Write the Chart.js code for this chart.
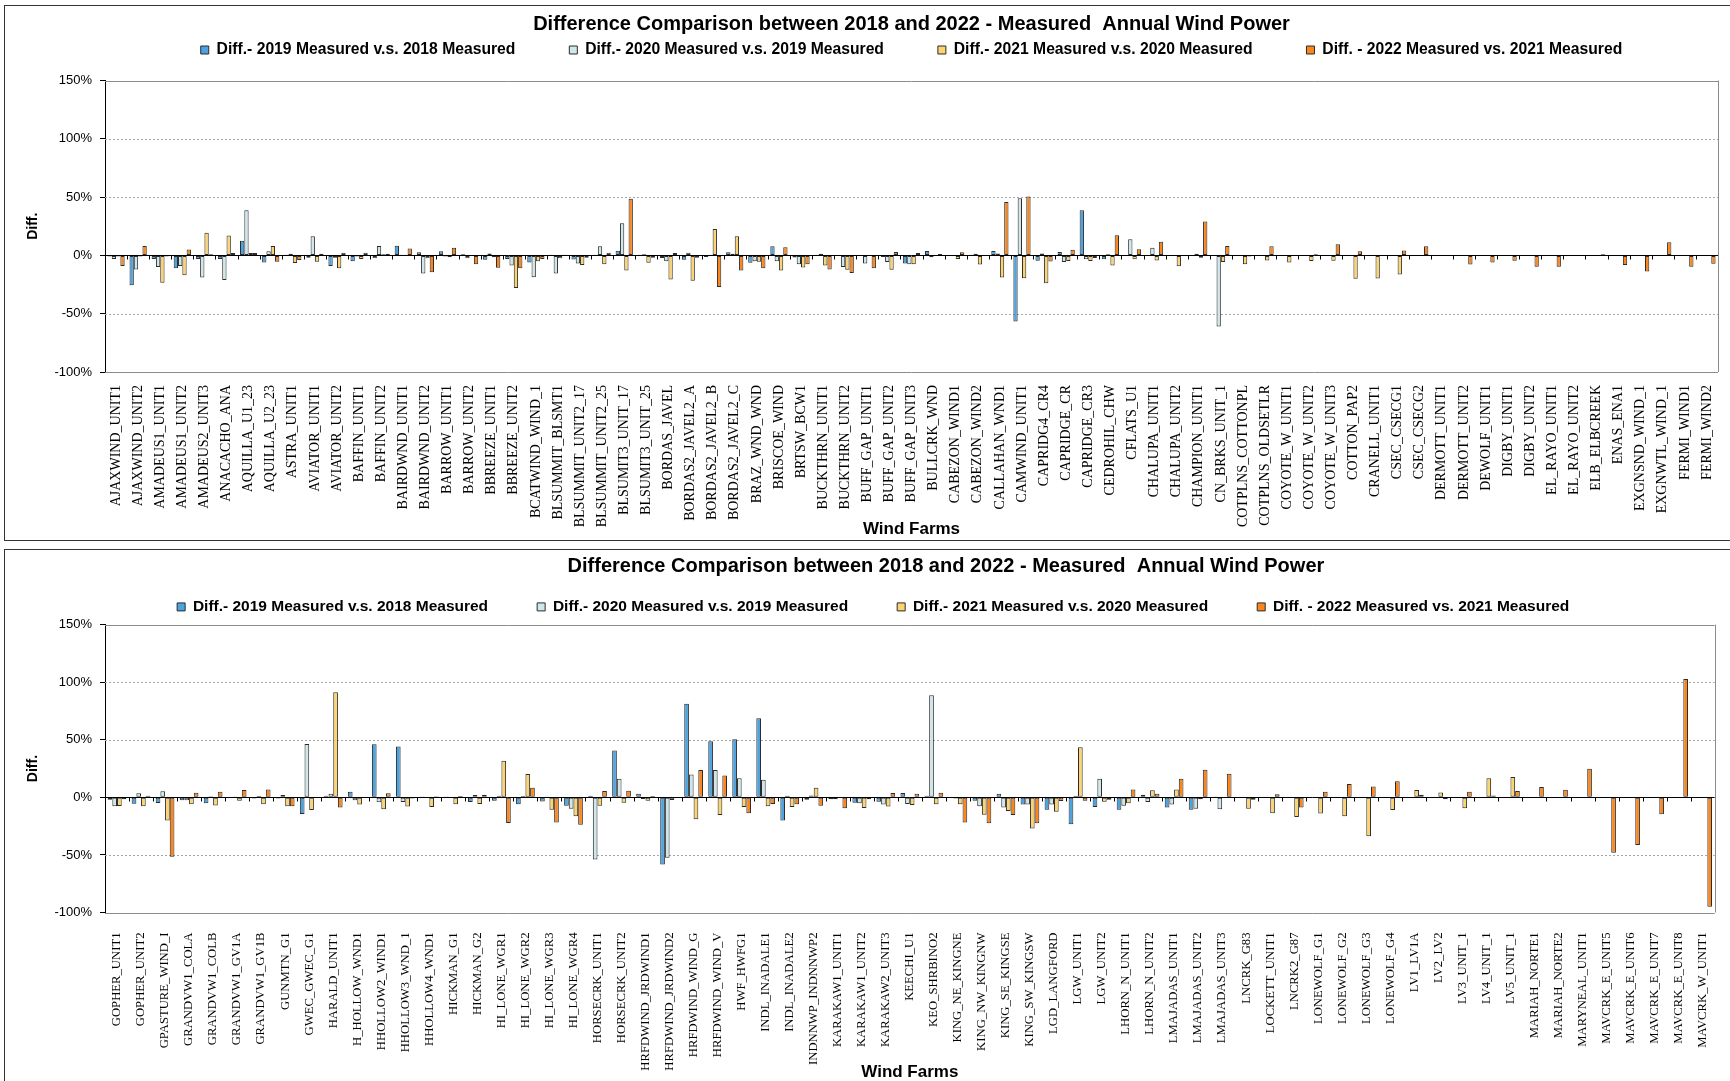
<!DOCTYPE html>
<html>
<head>
<meta charset="utf-8">
<script src="https://cdn.jsdelivr.net/npm/chart.js@4.4.1/dist/chart.umd.min.js"></script>
<style>
  html, body { margin: 0; padding: 0; background: #fff; width: 1730px; height: 1081px; overflow: hidden; }
  .box { position: absolute; left: 4px; width: 1830px; border: 1px solid #333; background: #fff; }
  #box1 { top: 5px; height: 534px; }
  #box2 { top: 549px; height: 560px; }
  canvas { display: block; }
</style>
</head>
<body>
<div class="box" id="box1"><canvas id="chart1" width="1725" height="534"></canvas></div>
<div class="box" id="box2"><canvas id="chart2" width="1725" height="545"></canvas></div>
<script>
Chart.defaults.font.family = '"Liberation Sans", Arial, sans-serif';
Chart.defaults.color = '#000';

const chartTitle = 'Difference Comparison between 2018 and 2022 - Measured  Annual Wind Power';
const seriesNames = [
  'Diff.- 2019 Measured v.s. 2018 Measured',
  'Diff.- 2020 Measured v.s. 2019 Measured',
  'Diff.- 2021 Measured v.s. 2020 Measured',
  'Diff. - 2022 Measured vs. 2021 Measured'
];
const seriesColors = ['#4ba3df', '#cfe6eb', '#fdd36f', '#fa861d'];

// ---- top chart ----
const farmsTop = ['AJAXWIND_UNIT1','AJAXWIND_UNIT2','AMADEUS1_UNIT1','AMADEUS1_UNIT2','AMADEUS2_UNIT3','ANACACHO_ANA',
  'AQUILLA_U1_23','AQUILLA_U2_23','ASTRA_UNIT1','AVIATOR_UNIT1','AVIATOR_UNIT2','BAFFIN_UNIT1','BAFFIN_UNIT2',
  'BAIRDWND_UNIT1','BAIRDWND_UNIT2','BARROW_UNIT1','BARROW_UNIT2','BBREEZE_UNIT1','BBREEZE_UNIT2','BCATWIND_WIND_1',
  'BLSUMMIT_BLSMT1','BLSUMMIT_UNIT2_17','BLSUMMIT_UNIT2_25','BLSUMIT3_UNIT_17','BLSUMIT3_UNIT_25','BORDAS_JAVEL',
  'BORDAS2_JAVEL2_A','BORDAS2_JAVEL2_B','BORDAS2_JAVEL2_C','BRAZ_WND_WND','BRISCOE_WIND','BRTSW_BCW1',
  'BUCKTHRN_UNIT1','BUCKTHRN_UNIT2','BUFF_GAP_UNIT1','BUFF_GAP_UNIT2','BUFF_GAP_UNIT3','BULLCRK_WND',
  'CABEZON_WIND1','CABEZON_WIND2','CALLAHAN_WND1','CAMWIND_UNIT1','CAPRIDG4_CR4','CAPRIDGE_CR','CAPRIDGE_CR3',
  'CEDROHIL_CHW','CFLATS_U1','CHALUPA_UNIT1','CHALUPA_UNIT2','CHAMPION_UNIT1','CN_BRKS_UNIT_1','COTPLNS_COTTONPL',
  'COTPLNS_OLDSETLR','COYOTE_W_UNIT1','COYOTE_W_UNIT2','COYOTE_W_UNIT3','COTTON_PAP2','CRANELL_UNIT1',
  'CSEC_CSECG1','CSEC_CSECG2','DERMOTT_UNIT1','DERMOTT_UNIT2','DEWOLF_UNIT1','DIGBY_UNIT1','DIGBY_UNIT2',
  'EL_RAYO_UNIT1','EL_RAYO_UNIT2','ELB_ELBCREEK','ENAS_ENA1','EXGNSND_WIND_1','EXGNWTL_WIND_1','FERMI_WIND1','FERMI_WIND2'];

const top2019 = [-1,-25.6,-3,-11,-3,-3,12.6,-6,0.5,-2,-9,-5,-2.5,8.3,2.6,3.5,1,-3.7,-3,-6,0.5,-3.5,0.5,4,0.5,-2.3,
  -3.7,-1.4,2.6,-6.3,7.8,-1.7,0.5,-0.5,-0.5,-1.4,-7,3.7,0.3,0.5,3.7,-56.6,-4.6,2.9,38.8,-3.4,0.3,0.3,0.3,0.3,0.3,
  null,null,null,null,null,null,null,null,null,null,null,null,null,null,null,null,null,null,null,null,null,null];
const top2020 = [-3,-12,-10,-9,-19,-21,38.8,3.5,1.5,16.4,-2,-1,8,0.5,-15.5,-1,-2.5,1.7,-8.6,-18.7,-15.5,-7,7.8,27.6,1,
  -5,2.3,0.5,1.4,-5,-5,-7.5,1.4,-10,-7,-5.7,-7.5,-1.5,-0.5,1.4,1.7,49,1.7,-5.7,-3.2,0.9,13.8,6.6,-0.5,1.4,-61,
  null,null,null,null,null,null,null,null,null,null,null,null,null,null,null,null,null,null,null,null,null,null];
const top2021 = [-1,-1,-23.5,-17,19.5,17,2,8,-6.6,-5.5,-11,-3,1,0.5,-2.5,-1.5,-0.3,-1.5,-28,-5,-2.5,-8.3,-7.5,-13,-6.3,
  -20.7,-21.8,22.7,16.4,-5.5,-13,-10.3,-8.6,-12.4,-0.5,-12.4,-7.5,0.3,-3,-7.8,-19,-19.5,-23.9,-4.9,-4.9,-8.6,-3.2,
  -4.3,-9.2,-2,-5.7,-7.5,-4.3,-6,-4.9,-4.6,-20,-19.8,-16.4,null,null,null,null,null,null,null,null,null,null,null,null,null,null];
const top2022 = [-9,8,-1,5,1,2,2,-5.5,-4,1.5,2.3,2.3,1.5,6,-14.4,6.6,-7.5,-10.6,-11,-3,0.5,-2,2.3,48.6,-2,2,-2,-27,-13,
  -11,7,-7.5,-12,-15,-11,3,2,1.2,2.6,0.3,45.7,50.6,-5.2,4.9,-2.3,17.2,5.2,11.8,-0.5,29,8,-1,7.8,-0.5,0.9,9.5,3.5,
  -0.5,4.3,7.8,0.3,-7.8,-6,-4.6,-9.8,-9.8,-0.5,1,-8.3,-13.8,11.2,-9.8,-7.2];

// ---- bottom chart ----
const farmsBottom = ['GOPHER_UNIT1','GOPHER_UNIT2','GPASTURE_WIND_I','GRANDVW1_COLA','GRANDVW1_COLB','GRANDVW1_GV1A',
  'GRANDVW1_GV1B','GUNMTN_G1','GWEC_GWEC_G1','HARALD_UNIT1','H_HOLLOW_WND1','HHOLLOW2_WIND1','HHOLLOW3_WND_1',
  'HHOLLOW4_WND1','HICKMAN_G1','HICKMAN_G2','HI_LONE_WGR1','HI_LONE_WGR2','HI_LONE_WGR3','HI_LONE_WGR4',
  'HORSECRK_UNIT1','HORSECRK_UNIT2','HRFDWIND_JRDWIND1','HRFDWIND_JRDWIND2','HRFDWIND_WIND_G','HRFDWIND_WIND_V',
  'HWF_HWFG1','INDL_INADALE1','INDL_INADALE2','INDNNWP_INDNNWP2','KARAKAW1_UNIT1','KARAKAW1_UNIT2','KARAKAW2_UNIT3',
  'KEECHI_U1','KEO_SHRBINO2','KING_NE_KINGNE','KING_NW_KINGNW','KING_SE_KINGSE','KING_SW_KINGSW','LGD_LANGFORD',
  'LGW_UNIT1','LGW_UNIT2','LHORN_N_UNIT1','LHORN_N_UNIT2','LMAJADAS_UNIT1','LMAJADAS_UNIT2','LMAJADAS_UNIT3',
  'LNCRK_G83','LOCKETT_UNIT1','LNCRK2_G87','LONEWOLF_G1','LONEWOLF_G2','LONEWOLF_G3','LONEWOLF_G4','LV1_LV1A',
  'LV2_LV2','LV3_UNIT_1','LV4_UNIT_1','LV5_UNIT_1','MARIAH_NORTE1','MARIAH_NORTE2','MARYNEAL_UNIT1',
  'MAVCRK_E_UNIT5','MAVCRK_E_UNIT6','MAVCRK_E_UNIT7','MAVCRK_E_UNIT8','MAVCRK_W_UNIT1'];

const bot2019 = [-2,-5.5,-4.9,-2.6,-5.2,0.5,-1,-1,-14.4,1.4,4.9,46.2,44.1,0.3,0.3,-4,-2.9,-6,-3.5,-7.2,1.4,40.7,3.2,
  -58.3,81.4,48.8,50.5,68.7,-20.2,-2,-1.7,-4.6,-3.8,3.8,1.4,0.5,-2.9,3.2,-6.3,-10.7,-23.4,-8.4,-10.7,2.3,-8.9,-10.7,0.3,
  null,null,null,null,null,null,null,null,null,null,null,null,null,null,null,null,null,null,null,null];
const bot2020 = [-7.8,3.5,5.2,-2.6,0.9,0.3,1.2,2,46.4,3.2,-2.6,-4.3,-4,-0.5,-0.3,2,1.4,1.2,0.3,-9.8,-54,16.2,-1.4,
  -52.5,19.9,23.7,16.7,15.3,1.4,1.7,-1.7,-5.2,-6.3,-5.8,88.6,-0.9,-7.8,-8.7,-6.3,-6.3,1.4,16.2,-7.2,-4,-6.3,-9.8,-10.4,
  null,null,null,null,null,null,null,null,null,null,null,null,null,null,null,null,null,null,null,null];
const bot2021 = [-7.5,-7.8,-20,-6,-7,-2.9,-6,-7.8,-11,91.2,-6.3,-10.4,-8,-8.4,-6,-5.8,31.7,20.2,-10.7,-16.4,-7.2,-4.6,
  -2.9,-2.3,-19,-15.3,-8.4,-7.8,-8.4,8.4,-0.5,-9.2,-8,-6.6,-6,-6,-15,-11.8,-27.1,-12.4,43.6,-3.8,-5.2,6.1,6.9,-1.7,0.6,
  -9.8,-13.8,-17,-14.1,-16.4,-33.8,-11,6.3,4.3,-9.5,16.7,17.6,null,null,null,null,null,null,null,null];
const bot2022 = [-1.7,1.4,-51.6,4,4.9,6.3,6.9,-7.8,0.5,-8.9,-0.6,3.5,-0.9,0.9,1.2,2.3,-22.2,8.4,-21.9,-23.7,5.5,5.8,1.2,
  0.6,23.7,19,-13.8,-5.8,-6,-7.2,-9.5,-1.7,3.8,3.2,4,-21.9,-22.5,-15.3,-22.5,-3.2,-2.9,-2,6.9,3.2,16.2,24,20.5,-2,2.6,
  -8.9,4.9,11.5,9.5,14.1,2.3,-1.7,4.9,1.7,5.5,8.9,6.6,24.8,-48.2,-41.3,-14.7,102.7,-94.9];

// excel-like plot frame: dotted gridlines, grey border, zero axis with category tick marks
const excelGrid = {
  id: 'excelGrid',
  beforeDatasetsDraw(chart) {
    const { ctx, chartArea: a, scales: { y } } = chart;
    ctx.save();
    ctx.lineWidth = 1;
    y.ticks.forEach(t => {
      if (t.value === 0) return;
      const py = Math.round(y.getPixelForValue(t.value)) + 0.5;
      const edge = t.value === y.max || t.value === y.min;
      ctx.setLineDash(edge ? [] : [2, 2]);
      ctx.strokeStyle = edge ? '#8c8c8c' : '#a6a6a6';
      ctx.beginPath();
      ctx.moveTo(a.left, py);
      ctx.lineTo(a.right, py);
      ctx.stroke();
    });
    ctx.setLineDash([]);
    ctx.strokeStyle = '#8c8c8c';
    const rx = Math.round(a.right) + 0.5;
    ctx.beginPath();
    ctx.moveTo(rx, a.top);
    ctx.lineTo(rx, a.bottom);
    ctx.stroke();
    ctx.restore();
  },
  afterDatasetsDraw(chart) {
    const { ctx, chartArea: a, scales: { x, y } } = chart;
    const py = Math.round(y.getPixelForValue(0)) + 0.5;
    ctx.save();
    ctx.strokeStyle = '#000';
    ctx.lineWidth = 1;
    ctx.beginPath();
    ctx.moveTo(a.left, py);
    ctx.lineTo(a.right, py);
    const n = chart.data.labels.length;
    for (let i = 1; i < n; i++) {
      const bx = Math.round((x.getPixelForValue(i - 1) + x.getPixelForValue(i)) / 2) + 0.5;
      ctx.moveTo(bx, py);
      ctx.lineTo(bx, py + 4);
    }
    ctx.stroke();
    ctx.restore();
  }
};

const nb = n => '\u00a0'.repeat(n);

function makeChart(id, labels, values, L) {
  return new Chart(document.getElementById(id), {
    type: 'bar',
    data: {
      labels: labels,
      datasets: values.map((d, i) => ({
        label: seriesNames[i],
        data: d,
        backgroundColor: seriesColors[i],
        borderColor: '#2b2b2b',
        borderWidth: 1,
        borderSkipped: false,
        categoryPercentage: 0.78,
        barPercentage: 1.0
      }))
    },
    options: {
      responsive: false,
      animation: false,
      layout: { padding: { left: 0, right: 12, top: 0, bottom: 0 } },
      plugins: {
        title: {
          display: true, text: nb(L.titleShift) + chartTitle, fullSize: false, color: '#000',
          font: { size: 20, weight: 'bold' },
          padding: { top: L.titleTop, bottom: L.titleBottom }
        },
        subtitle: {
          display: L.gap > 0, text: '', fullSize: false, weight: 500,
          font: { size: 1, lineHeight: 1 },
          padding: { top: 0, bottom: Math.max(L.gap - 1, 0) }
        },
        legend: {
          fullSize: false,
          labels: {
            boxWidth: 8, boxHeight: 8, padding: 6, color: '#000',
            font: { size: L.legendSize, weight: 'bold' },
            generateLabels(chart) {
              const items = Chart.defaults.plugins.legend.labels.generateLabels(chart);
              items.forEach((it, i) => { it.text += nb(i < items.length - 1 ? L.legendGap : L.legendTail); });
              return items;
            }
          }
        },
        tooltip: { enabled: false }
      },
      scales: {
        x: {
          grid: { display: false },
          border: { display: false },
          ticks: {
            autoSkip: false, maxRotation: 90, minRotation: 90, padding: L.tickPad, color: '#000',
            font: { family: '"Liberation Serif", "Times New Roman", serif', size: L.labelSize }
          },
          title: {
            display: true, text: 'Wind Farms', color: '#000',
            font: { size: 17, weight: 'bold' },
            padding: { top: 0, bottom: L.xTitlePad }
          },
          afterFit(s) { s.height = L.xHeight; }
        },
        y: {
          min: -100, max: 150,
          ticks: { stepSize: 50, callback: v => v + '%', color: '#000', font: { size: 13 }, padding: 8 },
          grid: { drawOnChartArea: false, color: '#000', tickLength: 5 },
          border: { color: '#000' },
          title: {
            display: true, text: 'Diff.', color: '#000',
            font: { size: 14, weight: 'bold' },
            padding: { top: 19.6, bottom: 0 }
          },
          afterFit(s) { s.width = 100; }
        }
      }
    },
    plugins: [excelGrid]
  });
}

makeChart('chart1', farmsTop, [top2019, top2020, top2021, top2022], {
  titleTop: 6, titleBottom: 0.15, gap: 12.65, tickPad: 5, xTitlePad: 0, xHeight: 168,
  labelSize: 14, legendSize: 15.7, legendGap: 11, legendTail: 0, titleShift: 0
});
makeChart('chart2', farmsBottom, [bot2019, bot2020, bot2021, bot2022], {
  titleTop: 4, titleBottom: 15.15, gap: 0, tickPad: 12, xTitlePad: 12.8, xHeight: 182.5,
  labelSize: 12.7, legendSize: 15.5, legendGap: 10, legendTail: 17, titleShift: 13
});
</script>
</body>
</html>
